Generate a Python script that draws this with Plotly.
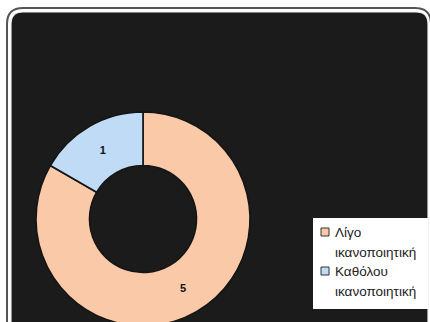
import plotly.graph_objects as go

# Satisfaction responses
labels = ["Λίγο<br>ικανοποιητική", "Καθόλου<br>ικανοποιητική"]
values = [5, 1]
colors = ["#f9c9a8", "#bfdbf6"]

W, H = 430, 340  # canvas taller than the viewport so the ring runs off the bottom edge


def px(x):
    return x / W


def py(y):
    return 1 - y / H


def rounded_rect(x0, y0, x1, y1, r):
    pts = [
        f"M {px(x0 + r)},{py(y0)}",
        f"L {px(x1 - r)},{py(y0)}",
        f"Q {px(x1)},{py(y0)} {px(x1)},{py(y0 + r)}",
        f"L {px(x1)},{py(y1 - r)}",
        f"Q {px(x1)},{py(y1)} {px(x1 - r)},{py(y1)}",
        f"L {px(x0 + r)},{py(y1)}",
        f"Q {px(x0)},{py(y1)} {px(x0)},{py(y1 - r)}",
        f"L {px(x0)},{py(y0 + r)}",
        f"Q {px(x0)},{py(y0)} {px(x0 + r)},{py(y0)}",
        "Z",
    ]
    return " ".join(pts)


cx, cy, R = 143, 219, 107

fig = go.Figure(
    go.Pie(
        labels=labels,
        values=values,
        hole=0.5,
        sort=False,
        direction="clockwise",
        rotation=0,
        marker=dict(colors=colors, line=dict(color="#151515", width=1.6)),
        texttemplate="<b>%{value}</b>",
        textposition="inside",
        insidetextorientation="horizontal",
        textfont=dict(family="Arial, Liberation Sans", size=11, color="#111111"),
        domain=dict(x=[px(cx - R), px(cx + R)], y=[py(cy + R), py(cy - R)]),
        showlegend=False,
    )
)

shapes = [
    dict(type="path", xref="paper", yref="paper", layer="below",
         path=rounded_rect(7, 8, 431, 345, 16),
         line=dict(color="#555555", width=2), fillcolor="white"),
    dict(type="path", xref="paper", yref="paper", layer="below",
         path=rounded_rect(11, 12, 428, 342, 12),
         line=dict(color="#eeeeee", width=1.2), fillcolor="#1b1b1b"),
    # legend box
    dict(type="rect", xref="paper", yref="paper", layer="below",
         x0=px(313), x1=px(428), y0=py(309), y1=py(218),
         line=dict(width=0), fillcolor="white"),
]
annotations = []

# legend entries: swatch plus two text lines per label
leg_x, leg_top, item_h, line_h = 333, 232, 39, 20
for i, (lab, col) in enumerate(zip(labels, colors)):
    y0 = leg_top + i * item_h
    shapes.append(dict(type="rect", xref="paper", yref="paper", layer="below",
                       x0=px(321), x1=px(329), y0=py(y0 + 4), y1=py(y0 - 4),
                       line=dict(color="#333333", width=1), fillcolor=col))
    for j, part in enumerate(lab.split("<br>")):
        annotations.append(dict(
            xref="paper", yref="paper", x=px(leg_x), y=py(y0 + j * line_h),
            xanchor="left", yanchor="middle", showarrow=False, text=part,
            font=dict(family="Arial, Liberation Sans", size=13.5, color="#222222"),
        ))

fig.update_layout(
    width=W,
    height=H,
    margin=dict(l=0, r=0, t=0, b=0),
    paper_bgcolor="white",
    plot_bgcolor="white",
    shapes=shapes,
    annotations=annotations,
)

fig.write_html(
    "out.html",
    post_script="document.body.style.overflow='hidden';"
                "document.documentElement.style.overflow='hidden';"
                "document.body.style.margin='0';",
)
